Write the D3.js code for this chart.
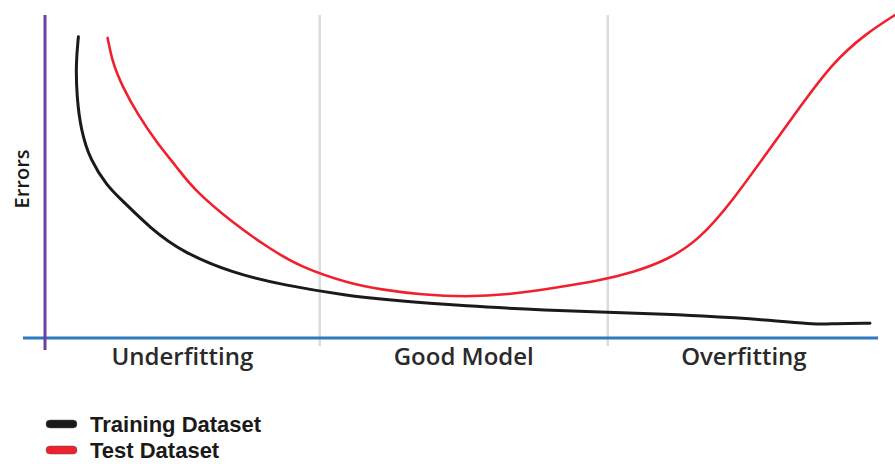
<!DOCTYPE html>
<html>
<head>
<meta charset="utf-8">
<script src="https://cdn.jsdelivr.net/npm/d3@7"></script>
<style>
  body { margin: 0; background: #fff; }
  svg { display: block; }
</style>
</head>
<body>
<script>
// complexity (0-100) vs error (0-100)
var trainX = [4.0, 3.7, 3.8, 4.3, 5.4, 7.5, 9.0, 12.6, 16.5, 22.5, 28.5, 36.5, 40.5, 50.5, 60.5, 66.5, 72.5, 78.4, 86.5, 92.5, 94.4, 98.8];
var trainY = [93.3, 85.1, 74.7, 64.4, 55.1, 46.9, 43.2, 34.0, 26.5, 20.1, 16.4, 13.0, 11.9, 9.8, 8.6, 8.0, 7.5, 6.9, 5.6, 4.1, 4.5, 4.6];
var testX = [7.5, 8.1, 9.3, 11.0, 13.4, 15.8, 17.7, 22.5, 26.6, 30.5, 36.5, 40.5, 45.0, 50.5, 55.5, 60.5, 66.5, 70.4, 74.5, 78.4, 82.4, 86.5, 90.4, 94.4, 98.4, 101.8];
var testY = [92.9, 85.1, 77.7, 69.7, 60.4, 52.9, 46.2, 35.6, 28.2, 22.0, 16.8, 14.9, 13.4, 12.7, 13.4, 15.3, 17.8, 20.3, 24.1, 30.5, 42.7, 57.5, 71.5, 85.5, 94.4, 100];
var zones = ["Underfitting", "Good Model", "Overfitting"];
var zoneEdges = [0, 32.9, 67.4, 100];
var seriesNames = ["Training Dataset", "Test Dataset"];
var seriesColors = ["#1a1a1a", "#f0202e"];

var width = 895, height = 464;

var x = d3.scaleLinear().domain([0, 100]).range([45, 880]);
var y = d3.scaleLinear().domain([0, 100]).range([338, 15]);

var svg = d3.select("body").append("svg")
    .attr("width", width)
    .attr("height", height);

// zone separators
svg.selectAll(".sep")
    .data(zoneEdges.slice(1, 3))
    .enter().append("line")
    .attr("class", "sep")
    .attr("x1", function(d) { return x(d); })
    .attr("x2", function(d) { return x(d); })
    .attr("y1", 15)
    .attr("y2", 346)
    .attr("stroke", "#dcdcdc")
    .attr("stroke-width", 2.5);

// zone labels
svg.selectAll(".zone")
    .data(zones)
    .enter().append("text")
    .attr("class", "zone")
    .attr("x", function(d, i) { return x((zoneEdges[i] + zoneEdges[i + 1]) / 2); })
    .attr("y", 365)
    .attr("text-anchor", "middle")
    .style("font-family", "'Open Sans', sans-serif")
    .style("font-weight", 600)
    .style("font-size", "24px")
    .style("fill", "#2a2a2a")
    .text(function(d) { return d; });

var line = d3.line()
    .x(function(d) { return x(d[0]); })
    .y(function(d) { return y(d[1]); })
    .curve(d3.curveBasis);

var series = [d3.zip(trainX, trainY), d3.zip(testX, testY)];

svg.selectAll(".curve")
    .data(series)
    .enter().append("path")
    .attr("class", "curve")
    .attr("d", line)
    .attr("fill", "none")
    .attr("stroke", function(d, i) { return seriesColors[i]; })
    .attr("stroke-width", function(d, i) { return i ? 2.6 : 3; })
    .attr("stroke-linecap", "round");

// x axis
svg.append("line")
    .attr("x1", 23).attr("x2", 878)
    .attr("y1", y(0)).attr("y2", y(0))
    .attr("stroke", "#2b7bbd")
    .attr("stroke-width", 3);

// y axis
svg.append("line")
    .attr("x1", x(0)).attr("x2", x(0))
    .attr("y1", 15).attr("y2", 350)
    .attr("stroke", "#6a3fa6")
    .attr("stroke-width", 3);

svg.append("text")
    .attr("transform", "translate(29,179) rotate(-90)")
    .attr("text-anchor", "middle")
    .style("font-family", "'Open Sans', sans-serif")
    .style("font-weight", 600)
    .style("font-size", "20px")
    .style("fill", "#1a1a1a")
    .text("Errors");

// legend
var legend = svg.selectAll(".legend")
    .data(seriesNames)
    .enter().append("g")
    .attr("class", "legend")
    .attr("transform", function(d, i) { return "translate(46," + (424 + i * 26) + ")"; });

legend.append("rect")
    .attr("x", 0).attr("y", -4)
    .attr("width", 31).attr("height", 8)
    .attr("rx", 4)
    .attr("fill", function(d, i) { return seriesColors[i]; })
    .attr("stroke", "#555")
    .attr("stroke-width", 0.5);

legend.append("text")
    .attr("x", 44)
    .attr("y", 8)
    .style("font-family", "'Liberation Sans', Arial, sans-serif")
    .style("font-weight", "bold")
    .style("font-size", "22px")
    .style("fill", "#1a1a1a")
    .text(function(d) { return d; });
</script>
</body>
</html>
